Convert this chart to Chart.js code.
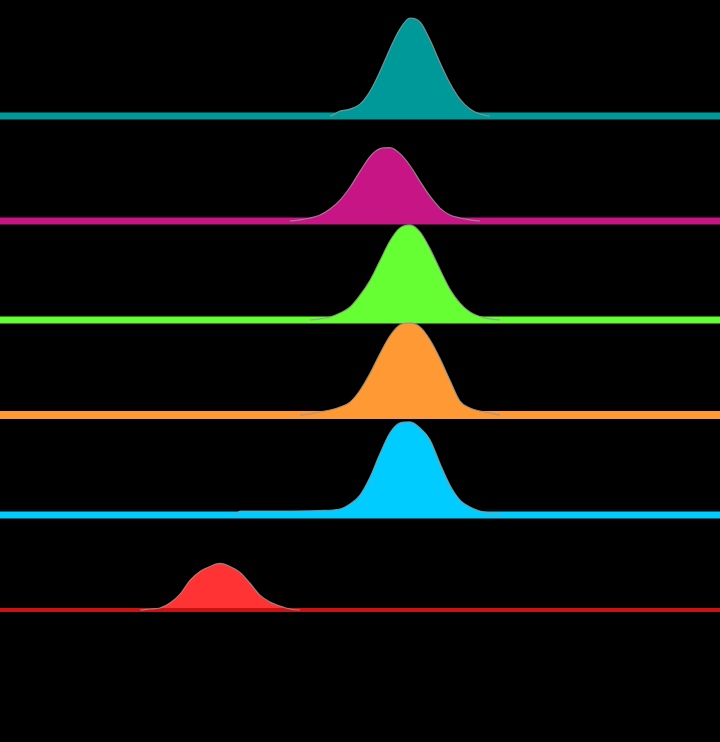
<!DOCTYPE html>
<html><head><meta charset="utf-8">
<script src="https://cdn.jsdelivr.net/npm/chart.js@4.4.1/dist/chart.umd.min.js"></script>
<style>html,body{margin:0;padding:0;background:#000;}#wrap{width:720px;height:742px;}</style>
</head><body><div id="wrap"><canvas id="c" width="720" height="742"></canvas></div>
<script>
// x in plot units (0..72); y = density height
const tealX = [0, 33, 34, 35, 36, 37, 38, 39, 40, 41, 42, 43, 44, 45, 46, 47, 48, 49, 72];
const tealY = [0, 0, 0.05, 0.07, 0.12, 0.25, 0.45, 0.68, 0.88, 0.99, 0.95, 0.77, 0.54, 0.33, 0.17, 0.07, 0.02, 0, 0];

const magentaX = [0, 29, 30, 31, 32, 33, 34, 35, 36, 37, 38, 39, 40, 41, 42, 43, 44, 45, 46, 47, 48, 72];
const magentaY = [0, 0, 0.01, 0.03, 0.06, 0.12, 0.21, 0.34, 0.50, 0.65, 0.73, 0.74, 0.68, 0.56, 0.40, 0.25, 0.13, 0.06, 0.03, 0.01, 0, 0];

const greenX = [0, 31, 32, 33, 34, 35, 36, 37, 38, 39, 40, 41, 42, 43, 44, 45, 46, 47, 48, 49, 50, 72];
const greenY = [0, 0, 0.01, 0.03, 0.07, 0.13, 0.25, 0.40, 0.60, 0.80, 0.93, 0.96, 0.89, 0.72, 0.51, 0.31, 0.17, 0.08, 0.035, 0.01, 0, 0];

const orangeX = [0, 30, 31, 32, 33, 34, 35, 36, 37, 38, 39, 40, 41, 42, 43, 44, 45, 46, 47, 48, 49, 50, 72];
const orangeY = [0, 0, 0.01, 0.03, 0.05, 0.08, 0.13, 0.25, 0.42, 0.62, 0.80, 0.91, 0.93, 0.89, 0.76, 0.57, 0.35, 0.14, 0.07, 0.04, 0.02, 0, 0];

const cyanX = [0, 23.5, 24, 28, 32, 34, 35, 36, 37, 38, 39, 40, 41, 42, 43, 44, 45, 46, 47, 48, 49, 50, 72];
const cyanY = [0, 0, 0.04, 0.04, 0.045, 0.06, 0.11, 0.20, 0.38, 0.62, 0.83, 0.93, 0.94, 0.88, 0.76, 0.52, 0.30, 0.15, 0.08, 0.04, 0.02, 0, 0];

const redX = [0, 14, 15, 16, 17, 18, 19, 20, 21, 22, 23, 24, 25, 26, 27, 28, 29, 30, 72];
const redY = [0, 0, 0.01, 0.02, 0.07, 0.16, 0.30, 0.39, 0.44, 0.47, 0.44, 0.38, 0.27, 0.15, 0.08, 0.04, 0.01, 0, 0];

const series = [[tealX, tealY], [magentaX, magentaY], [greenX, greenY], [orangeX, orangeY], [cyanX, cyanY], [redX, redY]];

const ridgeColors = ['#009999', '#c71585', '#66ff33', '#ff9933', '#00ccff', '#ff3333'];
const bandColors  = ['#009999', '#c71585', '#66ff33', '#ff9933', '#00ccff', '#cc1111'];
const bandWidths  = [7, 7, 7, 8, 7, 4];
const regionWeights = [1.0, 1.06, 1.0, 0.96, 1.01, 0.96];

// stacked left axes are placed last-defined on top, so define them bottom ridge first
const scales = { x: { type: 'linear', min: 0, max: 72, display: false } };
for (let i = series.length - 1; i >= 0; i--) {
  scales['y' + i] = { type: 'linear', position: 'left', stack: 'ridges', stackWeight: regionWeights[i],
    min: 0, max: regionWeights[i], display: false };
}

const isFlat = ctx => ctx.p0.parsed.y === 0 && ctx.p1.parsed.y === 0;

const datasets = series.map((s, i) => ({
  data: s[0].map((x, k) => ({ x: x, y: s[1][k] })),
  yAxisID: 'y' + i,
  order: series.length - 1 - i,
  backgroundColor: ridgeColors[i],
  borderColor: 'rgba(150,150,150,0.85)',
  borderWidth: 1.2,
  fill: 'origin',
  pointRadius: 0,
  cubicInterpolationMode: 'monotone',
  clip: false,
  segment: { borderColor: ctx => isFlat(ctx) ? 'rgba(0,0,0,0)' : 'rgba(150,150,150,0.85)' }
}));

const bandPlugin = {
  id: 'bands',
  beforeDatasetDraw(chart, args) {
    const i = args.index;
    const sc = chart.scales['y' + i];
    const y = sc.getPixelForValue(0);
    const ctx = chart.ctx;
    ctx.save();
    ctx.strokeStyle = bandColors[i];
    ctx.lineWidth = bandWidths[i];
    ctx.beginPath();
    ctx.moveTo(0, y);
    ctx.lineTo(chart.width, y);
    ctx.stroke();
    ctx.restore();
  }
};

new Chart(document.getElementById('c'), {
  type: 'line',
  data: { datasets: datasets },
  options: {
    responsive: false,
    devicePixelRatio: 1,
    animation: false,
    layout: { padding: { top: 17, bottom: 132, left: 0, right: 0 } },
    scales: scales,
    plugins: { legend: { display: false }, tooltip: { enabled: false } }
  },
  plugins: [bandPlugin]
});
</script>
</body></html>
